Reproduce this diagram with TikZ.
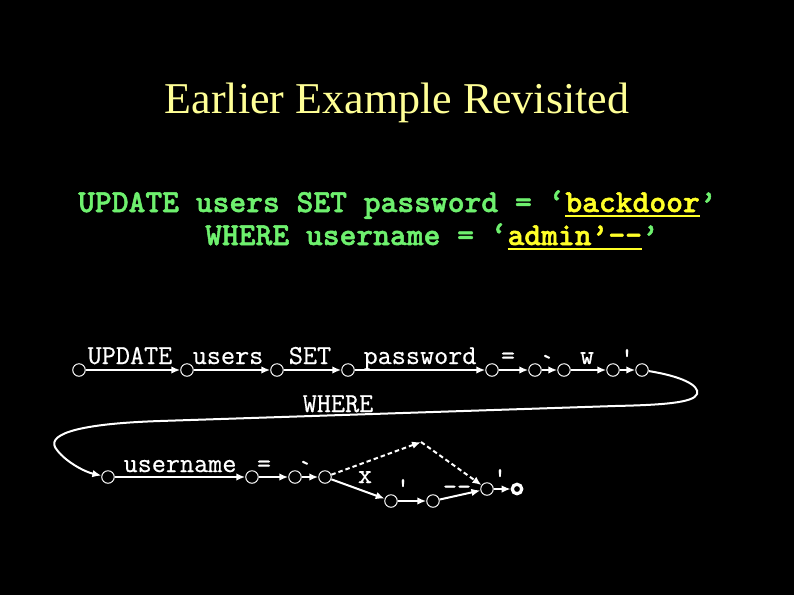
\documentclass[tikz,border=0pt]{standalone}
\usepackage{fontspec}
\setmainfont{Liberation Serif}
\newfontfamily\cmono[Ligatures=TeXOff,FakeBold=0.6]{Latin Modern Mono}
\newfontfamily\cmonob[Ligatures=TeXOff,FakeBold=1.6]{lmmonolt10-bold.otf}
\usetikzlibrary{arrows.meta}
\definecolor{codegreen}{RGB}{110,240,110}
\definecolor{hiyellow}{RGB}{255,255,40}
\definecolor{titleyellow}{RGB}{255,255,150}
\newcommand\yul[1]{\setbox0\hbox{#1}\rlap{\rule[-5pt]{\wd0}{2.4pt}}\box0}
\begin{document}
\begin{tikzpicture}[x=1pt,y=-1pt,
  st/.style={circle,draw=white,fill=black,line width=1pt,minimum size=12.5pt,inner sep=0pt},
  fin/.style={circle,draw=white,fill=black,line width=3.2pt,minimum size=9.5pt,inner sep=0pt},
  arr/.style={draw=white,line width=2pt,-{Latex[length=9pt,width=7.5pt]}},
  darr/.style={arr,dash pattern=on 4.5pt off 3pt},
  lab/.style={text=white,font=\cmono\fontsize{27.4}{27.4}\selectfont,anchor=base,inner sep=0pt},
  code/.style={anchor=base west,inner sep=0pt,text=codegreen,font=\cmonob\fontsize{32}{32}\selectfont}]
\fill[black] (0,0) rectangle (794,595);
\useasboundingbox (0,0) rectangle (794,595);
% title
\node[anchor=base,text=titleyellow,font=\fontsize{44}{44}\selectfont,inner sep=0pt] (title) at (397,113) {Earlier Example Revisited};
% SQL
\node[code] (sql1) at (78,212) {UPDATE users SET password = ‘{\color{hiyellow}\yul{backdoor}}’};
\node[code] (sql2) at (205,245) {WHERE username = ‘{\color{hiyellow}\yul{admin’--}}’};
% row 1 states
\node[st] (c1) at (79,370) {};
\node[st] (c2) at (187,370) {};
\node[st] (c3) at (277,370) {};
\node[st] (c4) at (348,370) {};
\node[st] (c5) at (492,370) {};
\node[st] (c6) at (535,370) {};
\node[st] (c7) at (564,370) {};
\node[st] (c8) at (613,370) {};
\node[st] (c9) at (642,370) {};
% row 2 states
\node[st] (c10) at (108,477) {};
\node[st] (c11) at (252,477) {};
\node[st] (c12) at (295,477) {};
\node[st] (c13) at (325,477) {};
\node[st] (c14) at (391,501) {};
\node[st] (c15) at (433,501) {};
\node[st] (c16) at (487,489) {};
\node[fin] (cf) at (517,489) {};
\coordinate (p) at (421,442);
% row 1 edges
\draw[arr] (c1) -- (c2);
\draw[arr] (c2) -- (c3);
\draw[arr] (c3) -- (c4);
\draw[arr] (c4) -- (c5);
\draw[arr] (c5) -- (c6);
\draw[arr] (c6) -- (c7);
\draw[arr] (c7) -- (c8);
\draw[arr] (c8) -- (c9);
% long curve
\draw[arr] (c9) .. controls (680,376) and (700,385) .. (697,394) .. controls (694,403) and (660,405) .. (615,406) -- (160,421) .. controls (70,424) and (45,436) .. (57,450) .. controls (66,462) and (85,472) .. (c10);
% row 2 edges
\draw[arr] (c10) -- (c11);
\draw[arr] (c11) -- (c12);
\draw[arr] (c12) -- (c13);
\draw[arr] (c13) -- (c14);
\draw[arr] (c14) -- (c15);
\draw[arr] (c15) -- (c16);
\draw[arr] (c16) -- (cf);
\draw[darr] (c13) -- (p);
\draw[darr] (p) -- (c16);
% row 1 labels
\node[lab] (l1) at (130,364) {UPDATE};
\node[lab] (l2) at (228,364) {users};
\node[lab] (l3) at (310,364) {SET};
\node[lab] (l4) at (420,364) {password};
\node[lab] (l5) at (508,364) {=};
\node[lab] (l6) at (547,372) {`};
\node[lab] (l7) at (587,364) {w};
\node[lab] (l8) at (627,366) {'};
\node[lab] (lw) at (338,412) {WHERE};
% row 2 labels
\node[lab] (l9) at (180,472) {username};
\node[lab] (l10) at (264,472) {=};
\node[lab] (l11) at (305,478) {`};
\node[lab] (l12) at (365,483) {x};
\node[lab] (l13) at (403,496) {'};
\node[lab] (l14) at (457,495) {--};
\node[lab] (l15) at (500,486) {'};
\end{tikzpicture}
\end{document}
